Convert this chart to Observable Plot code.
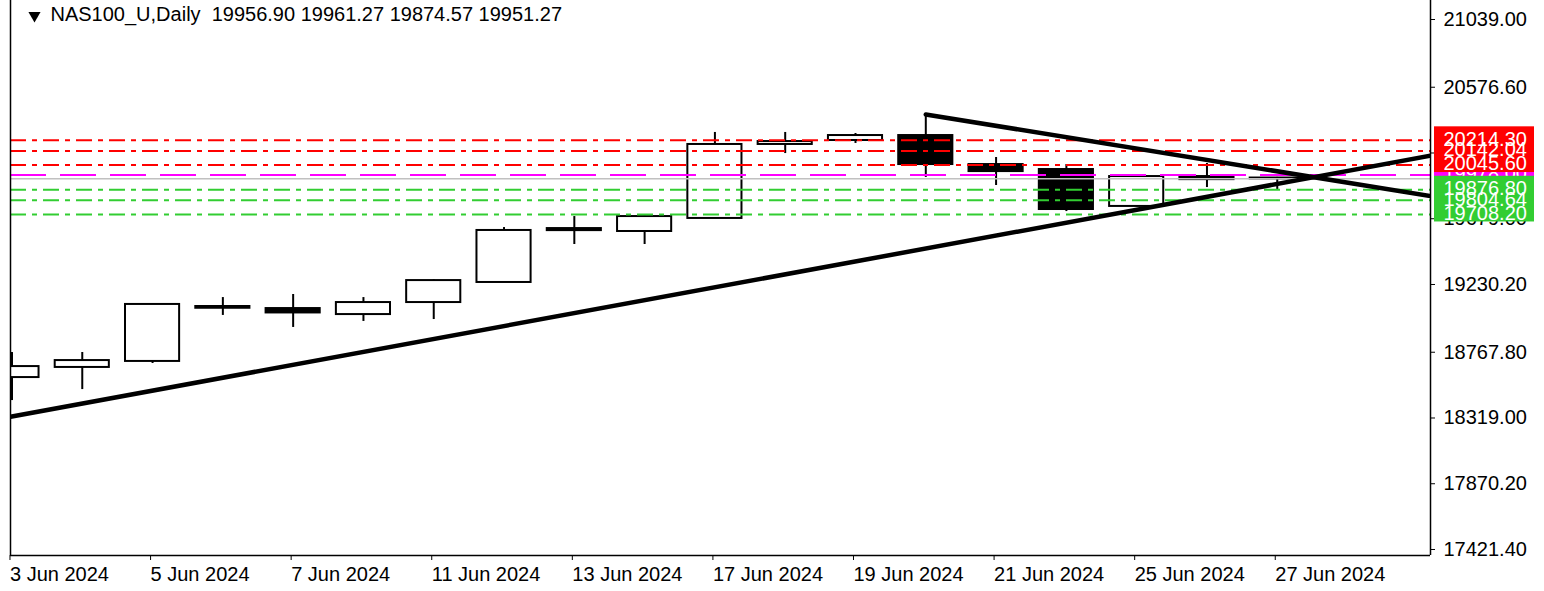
<!DOCTYPE html>
<html><head><meta charset="utf-8">
<script src="https://cdn.jsdelivr.net/npm/d3@7"></script>
<script src="https://cdn.jsdelivr.net/npm/@observablehq/plot@0.6"></script>
<style>html,body{margin:0;padding:0;background:#fff;} svg{display:block}</style>
</head><body><div id="chart"></div>
<script>
// ---- data ----
const dates = ["3 Jun 2024","4 Jun 2024","5 Jun 2024","6 Jun 2024","7 Jun 2024","10 Jun 2024","11 Jun 2024","12 Jun 2024","13 Jun 2024","14 Jun 2024","17 Jun 2024","18 Jun 2024","19 Jun 2024","20 Jun 2024","21 Jun 2024","24 Jun 2024","25 Jun 2024","26 Jun 2024","27 Jun 2024"];
const open  = [18595,18664,18705,19068,19066,19025,19107,19244,19612,19592,19681,20186,20213,20247,20049,20015,19763,19967,19956.90];
const high  = [18766,18766,19096,19141,19162,19141,19262,19619,19694,19708,20268,20268,20261,20391,20097,20049,19970,20056,19961.27];
const low   = [18438,18513,18691,19019,18937,18978,18991,19244,19503,19503,19681,20124,20193,19961,19906,19728,19760,19892,19874.57];
const close = [18670,18711,19094,19080,19036,19107,19257,19599,19598,19694,20186,20206,20247,20049,20001,19742,19967,19946,19951.27];
const xTickIndex = [0,2,4,6,8,10,12,14,16,18];
const yTicks = [21039.00,20576.60,20127.80,19679.00,19230.20,18767.80,18319.00,17870.20,17421.40];
const redLevels = [20045.60,20142.04,20214.30];
const greenLevels = [19876.80,19804.64,19708.20];
const magentaLevels = [19978.00];
const bidPrice = 19951.27;
const supportAnchors = [{i:0,p:18329},{i:18,p:19917}];
const resistanceAnchors = [{i:13,p:20391},{i:18,p:20003}];
const symbolTitle = "NAS100_U,Daily";
const titleValues = [19956.90,19961.27,19874.57,19951.27];
const xDomain = [-0.021, 20.18];
const yDomain = [17380.4, 21168.7];

// ---- derived ----
const candles = dates.map((d,i)=>({i, d, o:open[i], h:high[i], l:low[i], c:close[i]}));
const bulls = candles.filter(d=>d.c>=d.o);
const bears = candles.filter(d=>d.c<d.o);
function extend(a, from, to){
  const s = (a[1].p-a[0].p)/(a[1].i-a[0].i);
  return [from,to].map(i=>({i, p:a[0].p + s*(i-a[0].i)}));
}
const support = extend(supportAnchors, xDomain[0], xDomain[1]);
const resistance = extend(resistanceAnchors, resistanceAnchors[0].i, xDomain[1]);
const titleText = symbolTitle + "\u00a0\u00a0" + titleValues.map(v=>v.toFixed(2)).join("\u00a0");

const labelBox = (vals, color) => [
  Plot.rect(vals, {x1: ()=>xDomain[1], x2: ()=>xDomain[1], y1: d=>d, y2: d=>d,
    insetLeft: 4, insetRight: -104, insetTop: -13.5, insetBottom: -7.5, fill: color}),
  Plot.text(vals, {x: ()=>xDomain[1], y: d=>d, text: d=>d.toFixed(2), dx: 13, dy: -1,
    textAnchor: "start", fill: "#fff"})
];

const chart = Plot.plot({
  width: 1544, height: 591,
  marginLeft: 10, marginRight: 114, marginTop: 0, marginBottom: 36,
  style: {fontFamily: "'Liberation Sans', Arial, sans-serif", fontSize: "20px", background: "#fff", color: "#000"},
  x: {type: "linear", domain: xDomain, axis: null},
  y: {type: "linear", domain: yDomain, axis: null},
  marks: [
    Plot.axisY(yTicks, {anchor: "right", label: null, tickSize: 4, tickPadding: 9, tickFormat: d=>d.toFixed(2), fill: "#000", stroke: "#000"}),
    Plot.axisX(xTickIndex, {anchor: "bottom", label: null, tickSize: 5, tickPadding: 6, tickFormat: i=>dates[i], textAnchor: "start", dx: -2, fill: "#000", stroke: "#000"}),
    // candles
    Plot.ruleX(candles, {x: "i", y1: "l", y2: "h", stroke: "#000", strokeWidth: 2, clip: true}),
    Plot.rect(bulls, {x1: d=>d.i-0.385, x2: d=>d.i+0.385, y1: "o", y2: "c", fill: "#fff", stroke: "#000", strokeWidth: 2, clip: true}),
    Plot.rect(bears, {x1: d=>d.i-0.385, x2: d=>d.i+0.385, y1: "o", y2: "c", fill: "#000", stroke: "#000", strokeWidth: 2, clip: true}),
    // levels
    Plot.ruleY([bidPrice], {stroke: "#c0c0c0", strokeWidth: 1.5}),
    Plot.ruleY(magentaLevels, {stroke: "#ff00ff", strokeWidth: 2, strokeDasharray: "36,14"}),
    Plot.ruleY(redLevels, {stroke: "#ff0000", strokeWidth: 2, strokeDasharray: "16,6,5,6"}),
    Plot.ruleY(greenLevels, {stroke: "#32cd32", strokeWidth: 2, strokeDasharray: "16,6,5,6"}),
    // trend lines
    Plot.line(support, {x: "i", y: "p", stroke: "#000", strokeWidth: 4.5, clip: true}),
    Plot.line(resistance, {x: "i", y: "p", stroke: "#000", strokeWidth: 4.5, clip: true}),
    // frame
    Plot.ruleX(xDomain, {stroke: "#000", strokeWidth: 1.5}),
    Plot.ruleY([yDomain[0]], {stroke: "#000", strokeWidth: 1.5}),
    // price labels
    ...labelBox(magentaLevels, "#ff00ff"),
    ...labelBox(greenLevels, "#32cd32"),
    ...labelBox(redLevels, "#ff0000"),
    // title
    Plot.dot([0], {frameAnchor: "top-left", dx: 24, dy: 15, symbol: "triangle", rotate: 180, r: 4.5, fill: "#000", stroke: "none"}),
    Plot.text([titleText], {frameAnchor: "top-left", dx: 40, dy: 6, textAnchor: "start", lineAnchor: "top", fill: "#000"})
  ]
});
document.getElementById("chart").appendChild(chart);
</script>
</body></html>
